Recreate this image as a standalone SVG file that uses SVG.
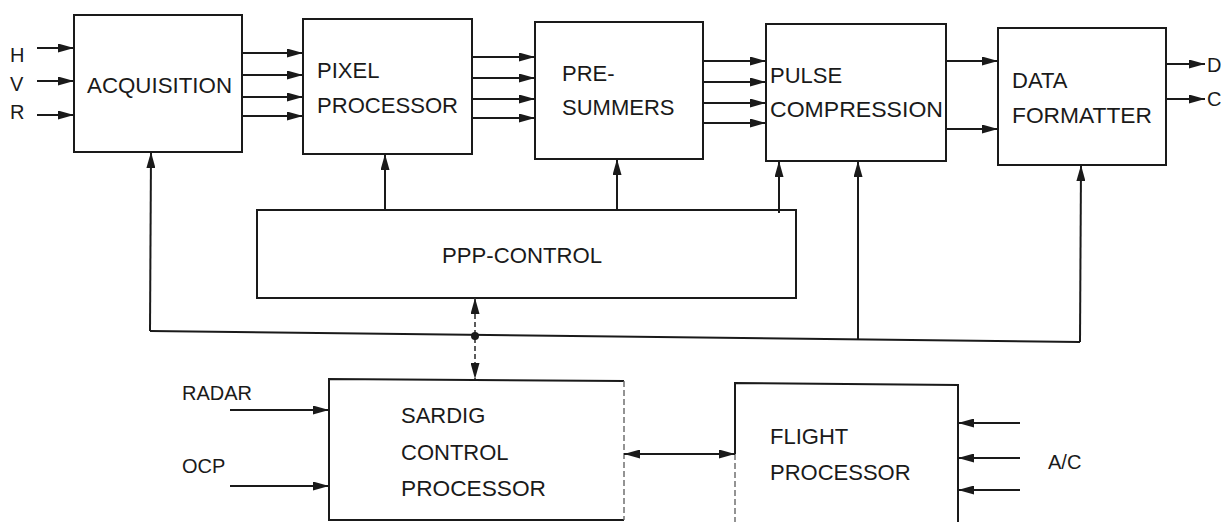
<svg xmlns="http://www.w3.org/2000/svg" width="1221" height="522" viewBox="0 0 1221 522">
<defs>
<style>
.box{fill:#fff;stroke:#1a1a1a;stroke-width:2}
.ln{fill:none;stroke:#1a1a1a;stroke-width:2}
.dash{fill:none;stroke:#333;stroke-width:1.6;stroke-dasharray:5 3}
.faint{fill:none;stroke:#666;stroke-width:1.4;stroke-dasharray:6 3}
.t{font-family:"Liberation Sans",Arial,sans-serif;font-size:22px;fill:#1a1a1a}
.s{font-family:"Liberation Sans",Arial,sans-serif;font-size:20px;fill:#1a1a1a}
</style>
<marker id="ah" viewBox="0 0 16 9" refX="16" refY="4.5" markerWidth="16" markerHeight="9" markerUnits="userSpaceOnUse" orient="auto">
<path d="M0,0 L16,4.5 L0,9 Z" fill="#1a1a1a"/>
</marker>
<marker id="ahs" viewBox="0 0 16 9" refX="0" refY="4.5" markerWidth="16" markerHeight="9" markerUnits="userSpaceOnUse" orient="auto">
<path d="M16,0 L0,4.5 L16,9 Z" fill="#1a1a1a"/>
</marker>
</defs>
<rect width="1221" height="522" fill="#fff"/>

<g id="acquisition">
<rect class="box" x="74" y="15" width="168" height="137"/>
<text class="t" x="87" y="93" textLength="145" lengthAdjust="spacingAndGlyphs">ACQUISITION</text>
</g>
<g id="pixel-processor">
<rect class="box" x="303" y="19" width="169" height="135"/>
<text class="t" x="317" y="78">PIXEL</text>
<text class="t" x="317" y="113" textLength="141" lengthAdjust="spacingAndGlyphs">PROCESSOR</text>
</g>
<g id="pre-summers">
<rect class="box" x="535" y="22" width="168" height="137"/>
<text class="t" x="562" y="81">PRE-</text>
<text class="t" x="562" y="115">SUMMERS</text>
</g>
<g id="pulse-compression">
<rect class="box" x="766" y="24" width="180" height="137"/>
<text class="t" x="770" y="83">PULSE</text>
<text class="t" x="770" y="117" textLength="173" lengthAdjust="spacingAndGlyphs">COMPRESSION</text>
</g>
<g id="data-formatter">
<rect class="box" x="998" y="28" width="168" height="137"/>
<text class="t" x="1012" y="88">DATA</text>
<text class="t" x="1012" y="123" textLength="140" lengthAdjust="spacingAndGlyphs">FORMATTER</text>
</g>
<g id="ppp-control">
<rect class="box" x="257" y="210" width="539" height="88"/>
<text class="t" x="442" y="263" textLength="160" lengthAdjust="spacingAndGlyphs">PPP-CONTROL</text>
</g>
<g id="sardig-control-processor">
<path class="ln" d="M624,381 L329,379 L329,520 L624,520"/>
<line class="faint" x1="624" y1="381" x2="624" y2="520"/>
<text class="t" x="401" y="423">SARDIG</text>
<text class="t" x="401" y="460">CONTROL</text>
<text class="t" x="401" y="496" textLength="145" lengthAdjust="spacingAndGlyphs">PROCESSOR</text>
</g>
<g id="flight-processor">
<path class="ln" d="M735,454 L735,383 L958,385 L958,530"/>
<line class="faint" x1="735" y1="454" x2="735" y2="530"/>
<text class="t" x="770" y="444">FLIGHT</text>
<text class="t" x="770" y="480">PROCESSOR</text>
</g>

<g id="labels">
<text class="s" x="10" y="62">H</text>
<text class="s" x="10" y="91">V</text>
<text class="s" x="10" y="119">R</text>
<text class="s" x="1207" y="72">D</text>
<text class="s" x="1207" y="106">C</text>
<text class="s" x="182" y="400">RADAR</text>
<text class="s" x="182" y="473">OCP</text>
<text class="s" x="1048" y="469">A/C</text>
</g>

<g id="connectors">
<line class="ln" x1="37" y1="48" x2="74" y2="48" marker-end="url(#ah)"/>
<line class="ln" x1="37" y1="81" x2="74" y2="81" marker-end="url(#ah)"/>
<line class="ln" x1="37" y1="115" x2="74" y2="115" marker-end="url(#ah)"/>

<line class="ln" x1="242" y1="53" x2="303" y2="53" marker-end="url(#ah)"/>
<line class="ln" x1="242" y1="75" x2="303" y2="75" marker-end="url(#ah)"/>
<line class="ln" x1="242" y1="97" x2="303" y2="97" marker-end="url(#ah)"/>
<line class="ln" x1="242" y1="116" x2="303" y2="116" marker-end="url(#ah)"/>

<line class="ln" x1="472" y1="57" x2="535" y2="57" marker-end="url(#ah)"/>
<line class="ln" x1="472" y1="78" x2="535" y2="78" marker-end="url(#ah)"/>
<line class="ln" x1="472" y1="99" x2="535" y2="99" marker-end="url(#ah)"/>
<line class="ln" x1="472" y1="118" x2="535" y2="118" marker-end="url(#ah)"/>

<line class="ln" x1="703" y1="61" x2="766" y2="61" marker-end="url(#ah)"/>
<line class="ln" x1="703" y1="82" x2="766" y2="82" marker-end="url(#ah)"/>
<line class="ln" x1="703" y1="103" x2="766" y2="103" marker-end="url(#ah)"/>
<line class="ln" x1="703" y1="123" x2="766" y2="123" marker-end="url(#ah)"/>

<line class="ln" x1="946" y1="61" x2="998" y2="61" marker-end="url(#ah)"/>
<line class="ln" x1="946" y1="129" x2="998" y2="129" marker-end="url(#ah)"/>

<line class="ln" x1="1166" y1="64" x2="1205" y2="64" marker-end="url(#ah)"/>
<line class="ln" x1="1166" y1="99" x2="1205" y2="99" marker-end="url(#ah)"/>

<line class="ln" x1="385" y1="210" x2="385" y2="154" marker-end="url(#ah)"/>
<line class="ln" x1="617" y1="211" x2="617" y2="159" marker-end="url(#ah)"/>
<line class="ln" x1="779" y1="213" x2="779" y2="161" marker-end="url(#ah)"/>

<polyline class="ln" points="150,331 1080,342"/>
<line class="ln" x1="150" y1="331" x2="151" y2="152" marker-end="url(#ah)"/>
<line class="ln" x1="858" y1="340" x2="858" y2="161" marker-end="url(#ah)"/>
<line class="ln" x1="1080" y1="342" x2="1081" y2="165" marker-end="url(#ah)"/>

<line class="dash" x1="475" y1="298" x2="475" y2="379" marker-start="url(#ahs)" marker-end="url(#ah)"/>
<circle cx="475" cy="336" r="4" fill="#1a1a1a"/>

<line class="ln" x1="230" y1="410" x2="329" y2="410" marker-end="url(#ah)"/>
<line class="ln" x1="230" y1="486" x2="329" y2="486" marker-end="url(#ah)"/>

<line class="ln" x1="624" y1="454" x2="735" y2="454" marker-start="url(#ahs)" marker-end="url(#ah)"/>

<line class="ln" x1="1020" y1="423" x2="958" y2="423" marker-end="url(#ah)"/>
<line class="ln" x1="1020" y1="458" x2="958" y2="458" marker-end="url(#ah)"/>
<line class="ln" x1="1020" y1="490" x2="958" y2="490" marker-end="url(#ah)"/>
</g>
</svg>
